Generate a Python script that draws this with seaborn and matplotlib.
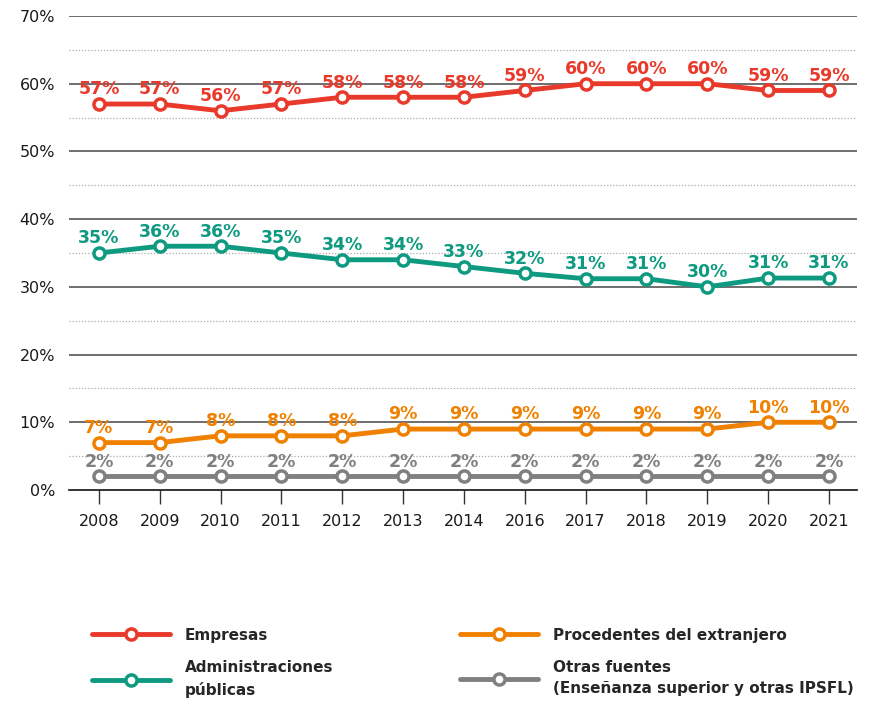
import numpy as np
import pandas as pd
import matplotlib
matplotlib.use("Agg")
import matplotlib.pyplot as plt
import seaborn as sns
from matplotlib.lines import Line2D

years = ["2008", "2009", "2010", "2011", "2012", "2013", "2014", "2016", "2017", "2018", "2019", "2020", "2021"]
empresas = [57, 57, 56, 57, 58, 58, 58, 59, 60, 60, 60, 59, 59]
administraciones = [35, 36, 36, 35, 34, 34, 33, 32, 31.2, 31.2, 30, 31.3, 31.3]
extranjero = [7, 7, 8, 8, 8, 9, 9, 9, 9, 9, 9, 10, 10]
otras = [2, 2, 2, 2, 2, 2, 2, 2, 2, 2, 2, 2, 2]
labels_emp = ["57%", "57%", "56%", "57%", "58%", "58%", "58%", "59%", "60%", "60%", "60%", "59%", "59%"]
labels_adm = ["35%", "36%", "36%", "35%", "34%", "34%", "33%", "32%", "31%", "31%", "30%", "31%", "31%"]
labels_ext = ["7%", "7%", "8%", "8%", "8%", "9%", "9%", "9%", "9%", "9%", "9%", "10%", "10%"]
labels_otr = ["2%"] * 13
series_names = ["Empresas", "Administraciones\npúblicas", "Procedentes del extranjero",
                "Otras fuentes\n(Enseñanza superior y otras IPSFL)"]
colors = ["#E8392A", "#0E9A80", "#F08000", "#808080"]

sns.set_style("white")
plt.rcParams["font.family"] = ["DejaVu Sans"]

rows = []
for name, vals in zip(series_names, [empresas, administraciones, extranjero, otras]):
    for i, v in enumerate(vals):
        rows.append({"idx": i, "year": years[i], "value": v, "serie": name})
df = pd.DataFrame(rows)

fig = plt.figure(figsize=(8.74, 7.06), dpi=100)
ax = fig.add_axes([69 / 874, 1 - 490 / 706, (857 - 69) / 874, (490 - 16) / 706])

sns.lineplot(data=df, x="idx", y="value", hue="serie", palette=colors, ax=ax,
             linewidth=3.5, marker="o", markersize=8, markerfacecolor="white",
             markeredgewidth=2.5, legend=False, zorder=3)
for line, c in zip(ax.lines, colors):
    line.set_markeredgecolor(c)

ax.set_ylim(0, 70)
ax.set_xlim(-0.49, 12.46)
ax.set_yticks(np.arange(0, 71, 10))
ax.set_yticklabels([f"{v}%" for v in range(0, 71, 10)], fontsize=11.5, color="#1a1a1a")
ax.set_xticks(range(len(years)))
ax.set_xticklabels(years, fontsize=11.5, color="#1a1a1a")
ax.set_xlabel("")
ax.set_ylabel("")

for y in range(10, 71, 10):
    ax.axhline(y, color="#555555", lw=1.2, zorder=1)
for y in range(5, 70, 10):
    ax.axhline(y, color="#aaaaaa", lw=0.9, ls=(0, (1, 1.5)), zorder=1)

for s in ["top", "right", "left"]:
    ax.spines[s].set_visible(False)
ax.spines["bottom"].set_color("#111111")
ax.spines["bottom"].set_linewidth(1.2)
ax.tick_params(axis="x", direction="out", length=10, width=1, color="#333333", pad=7.5, bottom=True)
ax.tick_params(axis="y", length=0, pad=10)

for vals, labs, c in zip([empresas, administraciones, extranjero, otras],
                         [labels_emp, labels_adm, labels_ext, labels_otr], colors):
    for i, (v, lab) in enumerate(zip(vals, labs)):
        ax.annotate(lab, (i, v), xytext=(0, 7), textcoords="offset points",
                    ha="center", va="baseline", color=c, fontsize=12.5, fontweight="bold", zorder=4)

handles = [Line2D([0], [0], color=c, lw=3.5, marker="o", markersize=8, markerfacecolor="white",
                  markeredgecolor=c, markeredgewidth=2.5) for c in colors]
leg = fig.legend(handles, series_names, ncol=2, loc="upper left", bbox_to_anchor=(84 / 874, 1 - 620 / 706),
                 frameon=False, handlelength=5.1, handletextpad=1.0, columnspacing=8.3,
                 labelspacing=1.15, borderpad=0, prop={"weight": "bold", "size": 11})
for t in leg.get_texts():
    t.set_linespacing(1.5)

fig.savefig("out.png", dpi=100)
